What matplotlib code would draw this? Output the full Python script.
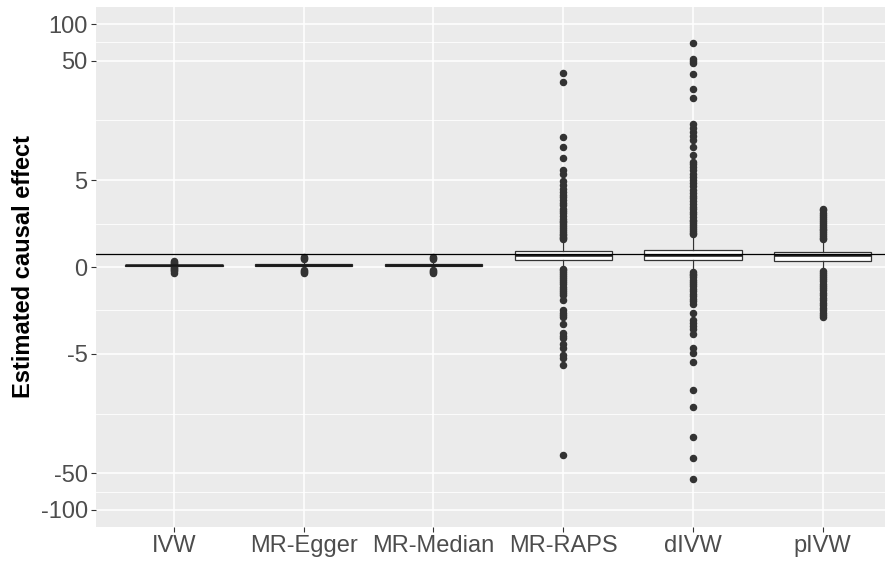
import numpy as np
import matplotlib
matplotlib.use("Agg")
from matplotlib import pyplot as plt

plt.rcParams["font.family"] = ["Liberation Sans", "DejaVu Sans"]

methods = ["IVW", "MR-Egger", "MR-Median", "MR-RAPS", "dIVW", "pIVW"]

# box statistics
q1 = [0.055, 0.03, 0.03, 0.28, 0.28, 0.23]
med = [0.065, 0.08, 0.08, 0.46, 0.47, 0.45]
q3 = [0.075, 0.13, 0.13, 0.62, 0.67, 0.58]
whislo = [0.03, -0.06, -0.06, -0.04, -0.15, -0.13]
whishi = [0.1, 0.24, 0.24, 1.06, 1.27, 1.02]

# outliers
out_ivw = [0.12, 0.15, 0.18, 0.22, 0.0, -0.04, -0.08, -0.12, -0.16, -0.21]
out_egger = [0.29, 0.33, 0.38, -0.1, -0.14, -0.18, -0.23]
out_median = [0.29, 0.33, 0.37, -0.1, -0.14, -0.18, -0.23]
out_raps = [39.2, 33.3, 11.7, 9.6, 7.8, 6.1, 5.7, 4.9, 4.5,
            4.2, 3.9, 3.7, 3.5, 3.3, 3.1, 2.9, 2.7, 2.55, 2.4, 2.25, 2.1,
            2.0, 1.9, 1.8, 1.7, 1.6, 1.5, 1.42, 1.35, 1.28, 1.21, 1.15, 1.1,
            -0.06, -0.12, -0.19, -0.26, -0.34, -0.42, -0.5, -0.58, -0.67,
            -0.76, -0.85, -0.94, -1.03, -1.12, -1.35, -1.83, -1.95, -2.07,
            -2.19, -2.58, -3.21, -3.4, -3.62, -4.04, -4.4, -5.16, -5.45,
            -6.23, -35.6]
out_divw = [69.3, 52.1, 49.5, 47.4, 38.5, 29.1, 24.7, 14.9, 13.9, 12.8,
            11.9, 11.0, 9.6, 8.2, 7.2, 6.9, 6.5,
            6.1, 5.7, 5.3, 5.0, 4.7, 4.4, 4.1, 3.85, 3.6, 3.4, 3.2, 3.0,
            2.8, 2.65, 2.5, 2.35, 2.2, 2.05, 1.95, 1.85, 1.75, 1.65, 1.55,
            1.47, 1.4, 1.33,
            -0.19, -0.25, -0.32, -0.4, -0.48, -0.56, -0.65, -0.75, -0.85,
            -0.95, -1.05, -1.15, -1.27, -1.38, -1.5, -2.0, -2.39, -2.55,
            -2.76, -2.95, -3.26, -4.46, -4.93, -5.9, -10.2, -14.2, -25.2,
            -37.2, -55.4]
out_pivw = [1.1, 1.17, 1.25, 1.33, 1.41, 1.5, 1.59, 1.68, 1.78, 1.88,
            1.98, 2.09, 2.2, 2.32, 2.45, 2.58, 2.7,
            -0.17, -0.24, -0.31, -0.39, -0.47, -0.55, -0.64, -0.73, -0.82,
            -0.92, -1.02, -1.12, -1.23, -1.34, -1.46, -1.58, -1.71, -1.84,
            -1.98, -2.1, -2.2]
outliers = [out_ivw, out_egger, out_median, out_raps, out_divw, out_pivw]

ref_line = 0.5
yticks = [-100, -50, -5, 0, 5, 50, 100]


def fwd(v):
    return np.arcsinh(np.asarray(v) / 2)


def inv(t):
    return 2 * np.sinh(np.asarray(t))


fig = plt.figure(figsize=(8.85, 5.67), dpi=100)
ax = fig.add_axes([96 / 885, 1 - 527 / 567, 1 - 96 / 885, 520 / 567])
ax.set_facecolor("#EBEBEB")
for s in ax.spines.values():
    s.set_visible(False)

ax.set_yscale("function", functions=(fwd, inv))
ax.set_ylim(-138.4, 138.4)
ax.set_xlim(0.4, 6.48)

# grid
t_major = fwd(yticks)
minor = inv((t_major[:-1] + t_major[1:]) / 2)
ax.set_yticks(yticks)
ax.set_yticklabels([str(v) for v in yticks])
ax.set_yticks(minor, minor=True)
ax.tick_params(axis="y", which="minor", length=0)
ax.grid(True, which="major", color="white", linewidth=1.1)
ax.grid(True, which="minor", axis="y", color="white", linewidth=0.6)
ax.set_axisbelow(True)

stats = []
for i in range(len(methods)):
    stats.append(dict(med=med[i], q1=q1[i], q3=q3[i], whislo=whislo[i],
                      whishi=whishi[i], fliers=outliers[i], label=methods[i]))

pos = np.arange(1, len(methods) + 1)
ax.bxp(stats, positions=pos, widths=0.75, patch_artist=True, showcaps=False,
       boxprops=dict(facecolor="white", edgecolor="#333333", linewidth=0.9),
       medianprops=dict(color="#1A1A1A", linewidth=1.8),
       whiskerprops=dict(color="#333333", linewidth=0.9),
       flierprops=dict(marker="o", markerfacecolor="#333333",
                       markeredgecolor="#333333", markersize=4.4,
                       linestyle="none"))

ax.axhline(ref_line, color="black", linewidth=0.9, zorder=5)

ax.set_xticks(pos)
ax.set_xticklabels(methods)
ax.tick_params(axis="both", which="major", colors="#333333", length=3.5,
               width=0.8, labelcolor="#4D4D4D", labelsize=17, pad=2.5)

ax.set_ylabel("Estimated causal effect", fontsize=17, fontweight="bold",
              color="black")
ax.yaxis.set_label_coords(-0.077, 0.5)

plt.savefig("out.png", dpi=100)
